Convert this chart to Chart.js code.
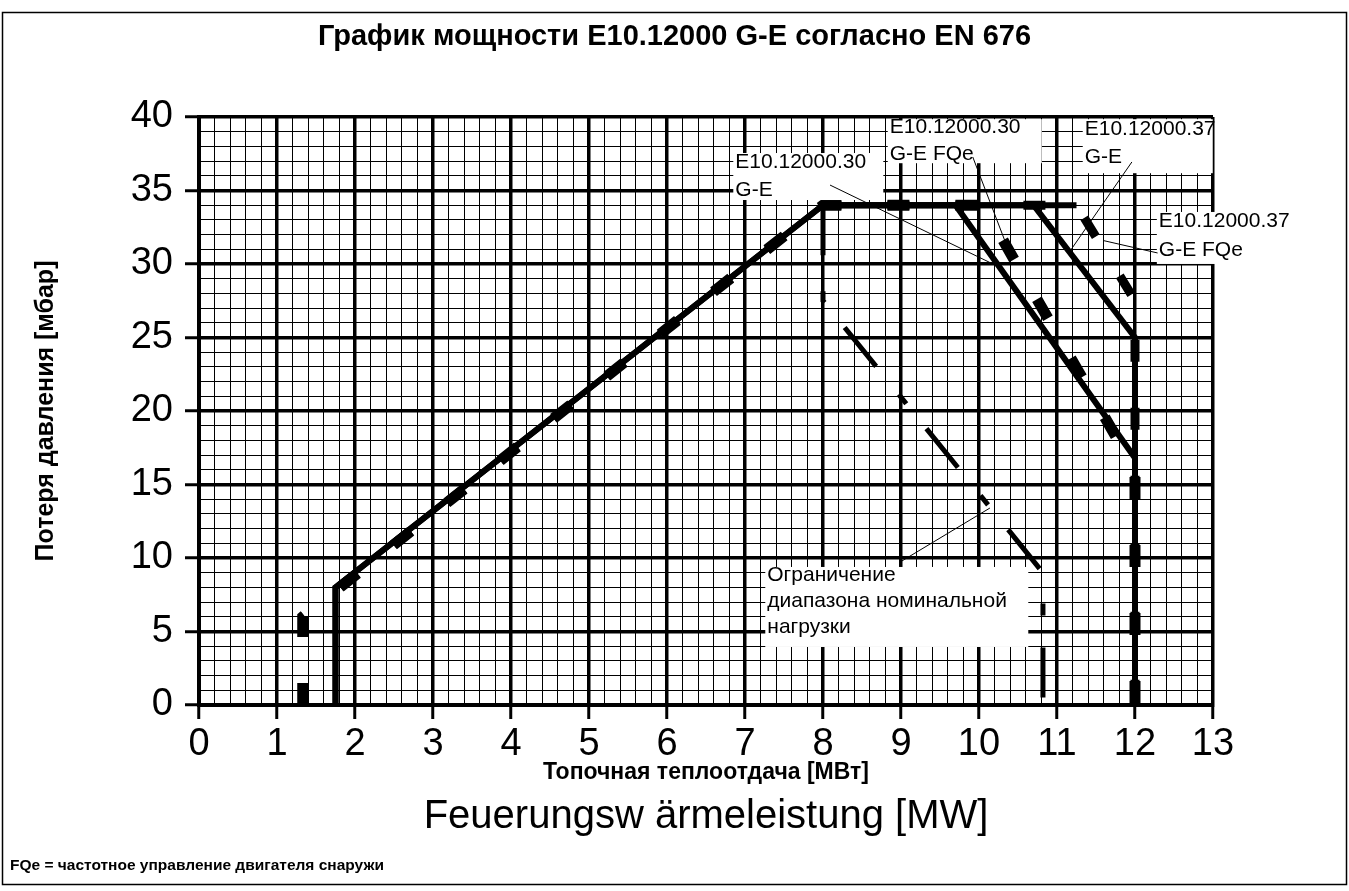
<!DOCTYPE html>
<html>
<head>
<meta charset="utf-8">
<script src="https://cdn.jsdelivr.net/npm/chart.js@4.4.0/dist/chart.umd.min.js"></script>
<style>
html, body { margin: 0; padding: 0; background: #fff; }
#wrap { width: 1349px; height: 891px; }
</style>
</head>
<body>
<div id="wrap"><canvas id="canvas1" width="1349" height="891"></canvas></div>
<script>
// Valeurs (x = MW, y = mbar)
const ge30X = [1.75, 1.75, 8, 9.7, 12, 12];
const ge30Y = [0, 8, 34, 34, 16.8, 0];
const ge37X = [1.75, 1.75, 8, 10.7, 12, 12];
const ge37Y = [0, 8, 34, 34, 25, 0];
const topX = [8, 11.25];
const topY = [34, 34];
const fqe30X = [1.33, 1.33, 8, 10.05, 12, 12];
const fqe30Y = [0, 6, 34, 34, 16, 0];
const fqe37X = [1.33, 1.33, 8, 11.25, 12, 12];
const fqe37Y = [0, 6, 34, 34, 27.5, 0];
const limitX = [8, 8, 10.82, 10.82];
const limitY = [34, 27.5, 9, 0];

// Etiquettes des axes
const xLabels = [0, 1, 2, 3, 4, 5, 6, 7, 8, 9, 10, 11, 12, 13];
const yLabels = [0, 5, 10, 15, 20, 25, 30, 35, 40];

// Textes des annotations
const noteTexts = [
    ['E10.12000.30', 'G-E'],
    ['E10.12000.30', 'G-E FQe'],
    ['E10.12000.37', 'G-E'],
    ['E10.12000.37', 'G-E FQe'],
    ['Ограничение', 'диапазона номинальной', 'нагрузки']
];
// Cible de chaque trait de rappel (sur les courbes)
const noteTargetX = [10.14, 10.33, 11.17, 11.59, 10.14];
const noteTargetY = [30.1, 31.6, 30.9, 31.6, 13.4];

// placement des boites (coin haut gauche en unités du graphique, taille en px)
const noteLayout = [
    { bx: 6.85, by: 37.55, w: 150, h: 47, sx: 8.09, sy: 35.37, first: 9, gap: 28 },
    { bx: 8.83, by: 39.85, w: 154, h: 44, sx: 9.92, sy: 37.28, first: 8, gap: 27 },
    { bx: 11.33, by: 39.85, w: 130, h: 54, sx: 11.96, sy: 36.94, first: 10, gap: 28 },
    { bx: 12.28, by: 33.54, w: 145, h: 52, sx: 12.29, sy: 30.75, first: 9, gap: 29 },
    { bx: 7.26, by: 9.39, w: 263, h: 80, sx: 8.99, sy: 9.73, first: 8, gap: 26 }
];

const FONT = '"Liberation Sans", Arial, Helvetica, sans-serif';
Chart.defaults.font.family = FONT;
Chart.defaults.color = '#000';

function pts(xs, ys) {
    let out = [];
    for (let i = 0; i < xs.length; i++) {
        out.push({ x: xs[i], y: ys[i] });
    }
    return out;
}

function isOn(v, step) {
    return Math.abs(v / step - Math.round(v / step)) < 1e-6;
}

const base = {
    borderColor: '#000',
    backgroundColor: '#000',
    pointRadius: 0,
    tension: 0,
    fill: false,
    borderCapStyle: 'butt',
    borderJoinStyle: 'miter'
};

// dataset 0 est dessiné au dessus
const datasets = [
    Object.assign({}, base, { label: 'E10.12000.30 G-E FQe', data: pts(fqe30X, fqe30Y), borderWidth: 11, borderDash: [22, 46] }),
    Object.assign({}, base, { label: 'E10.12000.37 G-E FQe', data: pts(fqe37X, fqe37Y), borderWidth: 9, borderDash: [22, 46] }),
    Object.assign({}, base, { label: 'limit', data: pts(limitX, limitY), borderWidth: 5, borderDash: [50, 36, 12, 32] }),
    Object.assign({}, base, { label: 'top', data: pts(topX, topY), borderWidth: 6 }),
    Object.assign({}, base, { label: 'E10.12000.30 G-E', data: pts(ge30X, ge30Y), borderWidth: 6 }),
    Object.assign({}, base, { label: 'E10.12000.37 G-E', data: pts(ge37X, ge37Y), borderWidth: 6 })
];

// fond blanc + cadre + textes hors graphique
const framePlugin = {
    id: 'frame',
    beforeDraw(chart) {
        const c = chart.ctx;
        c.save();
        c.fillStyle = '#fff';
        c.fillRect(0, 0, chart.width, chart.height);
        c.restore();
    },
    afterDraw(chart) {
        const c = chart.ctx;
        const area = chart.chartArea;
        c.save();
        c.strokeStyle = '#000';
        c.lineWidth = 1.5;
        c.strokeRect(2.5, 12.5, chart.width - 5, chart.height - 19);
        c.fillStyle = '#000';
        c.textAlign = 'center';
        c.textBaseline = 'middle';
        c.font = 'bold 29px ' + FONT;
        c.fillText('График мощности E10.12000 G-E согласно EN 676', chart.width / 2, 37);
        c.font = '40px ' + FONT;
        c.fillText('Feuerungsw ärmeleistung [MW]', (area.left + area.right) / 2, 817);
        c.textAlign = 'left';
        c.font = 'bold 15.5px ' + FONT;
        c.fillText('FQe = частотное управление двигателя снаружи', 10, 866);
        c.restore();
    }
};

// boites d'annotation
const notePlugin = {
    id: 'notes',
    afterDatasetsDraw(chart) {
        const c = chart.ctx;
        const sx = chart.scales.x;
        const sy = chart.scales.y;
        c.save();
        for (let i = 0; i < noteTexts.length; i++) {
            const L = noteLayout[i];
            c.fillStyle = '#fff';
            c.fillRect(sx.getPixelForValue(L.bx), sy.getPixelForValue(L.by), L.w, L.h);
        }
        c.strokeStyle = '#000';
        c.lineWidth = 1;
        for (let i = 0; i < noteTexts.length; i++) {
            const L = noteLayout[i];
            c.beginPath();
            c.moveTo(sx.getPixelForValue(L.sx), sy.getPixelForValue(L.sy));
            c.lineTo(sx.getPixelForValue(noteTargetX[i]), sy.getPixelForValue(noteTargetY[i]));
            c.stroke();
        }
        c.fillStyle = '#000';
        c.font = '21px ' + FONT;
        c.textAlign = 'left';
        c.textBaseline = 'middle';
        for (let i = 0; i < noteTexts.length; i++) {
            const L = noteLayout[i];
            const x0 = sx.getPixelForValue(L.bx);
            const y0 = sy.getPixelForValue(L.by);
            noteTexts[i].forEach(function (t, j) {
                c.fillText(t, x0 + 2, y0 + L.first + j * L.gap);
            });
        }
        c.restore();
    }
};

const config = {
    type: 'line',
    data: { datasets: datasets },
    options: {
        responsive: false,
        animation: false,
        events: [],
        layout: { padding: { left: 0, right: 136, top: 117, bottom: 105 } },
        plugins: {
            legend: { display: false },
            tooltip: { enabled: false },
            title: { display: false }
        },
        scales: {
            x: {
                type: 'linear',
                min: 0,
                max: 13,
                ticks: {
                    stepSize: 0.2,
                    autoSkip: false,
                    maxRotation: 0,
                    padding: 3,
                    font: { size: 38 },
                    color: '#000',
                    callback: function (v) {
                        const r = Math.round(v);
                        return (isOn(v, 1) && xLabels.includes(r)) ? String(r) : '';
                    }
                },
                grid: {
                    color: '#000',
                    lineWidth: ctx => isOn(ctx.tick.value, 1) ? 3.5 : 1,
                    tickColor: ctx => isOn(ctx.tick.value, 1) ? '#000' : 'rgba(0,0,0,0)',
                    tickWidth: 3,
                    tickLength: 14
                },
                border: { color: '#000', width: 4 },
                title: {
                    display: true,
                    text: 'Топочная теплоотдача [МВт]',
                    font: { size: 23, weight: 'bold' },
                    color: '#000',
                    padding: { top: 0, bottom: 0 }
                },
                afterFit: function (scale) { scale.height = 81; }
            },
            y: {
                type: 'linear',
                min: 0,
                max: 40,
                ticks: {
                    stepSize: 1,
                    autoSkip: false,
                    padding: 12,
                    font: { size: 38 },
                    color: '#000',
                    callback: function (v) {
                        const r = Math.round(v);
                        return (isOn(v, 1) && yLabels.includes(r)) ? String(r) : '';
                    }
                },
                grid: {
                    color: '#000',
                    lineWidth: ctx => isOn(ctx.tick.value, 5) ? 3.5 : 1,
                    tickColor: ctx => isOn(ctx.tick.value, 5) ? '#000' : 'rgba(0,0,0,0)',
                    tickWidth: 3,
                    tickLength: 14
                },
                border: { color: '#000', width: 4 },
                title: {
                    display: true,
                    text: 'Потеря давления [мбар]',
                    font: { size: 25, weight: 'bold' },
                    color: '#000',
                    padding: { top: 31, bottom: 0 }
                },
                afterFit: function (scale) { scale.width = 199; }
            }
        }
    },
    plugins: [framePlugin, notePlugin]
};

const chartOne = new Chart(document.getElementById('canvas1'), config);
</script>
</body>
</html>
